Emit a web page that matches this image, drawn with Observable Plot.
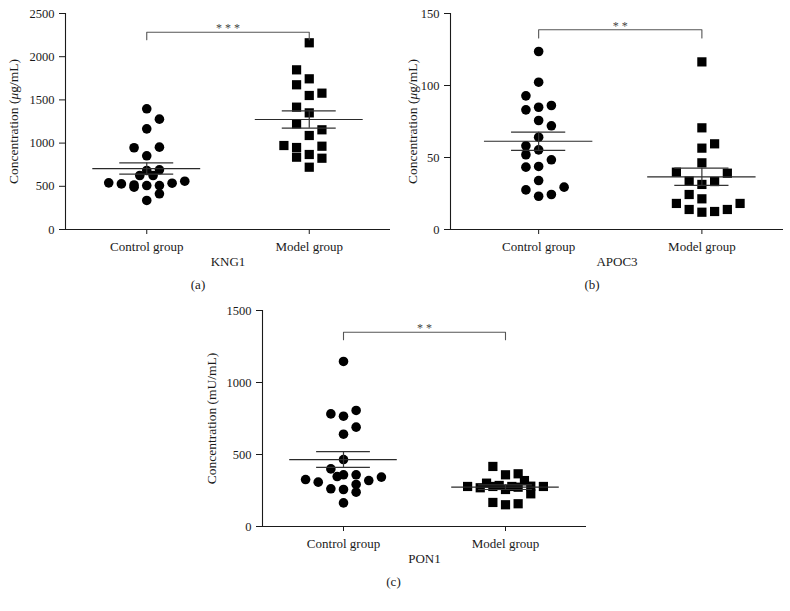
<!DOCTYPE html>
<html>
<head>
<meta charset="utf-8">
<script src="https://cdn.jsdelivr.net/npm/d3@7"></script>
<script src="https://cdn.jsdelivr.net/npm/@observablehq/plot@0.6"></script>
<style>
  html, body { margin: 0; padding: 0; background: #fff; }
  #wrap { position: relative; width: 790px; height: 611px; overflow: hidden; background: #fff; }
  .panel { position: absolute; }
</style>
</head>
<body>
<div id="wrap"></div>
<script>
// ---------- data ----------
const groups = ["Control group", "Model group"];

// (a) KNG1 (µg/mL)
const kngControl    = [1397, 1277, 1165, 946, 953, 853, 691, 683, 625, 625, 540, 528, 490, 515, 509, 509, 536, 559, 413, 336];
const kngControlCol = [0, 1, 0, -1, 1, 0, 1, 0, -0.55, 0.5, -3, -2, -1, -1, 0, 1, 2, 3, 1, 0];
const kngModel      = [2161, 1848, 1744, 1675, 1578, 1551, 1416, 1350, 1223, 1154, 1088, 972, 949, 964, 837, 868, 825, 721];
const kngModelCol   = [0, -1, 0, -1, 1, 0, -1, 0, -1, 1, 0, -2, -1, 1, -1, 0, 1, 0];
const kngMean = [705, 1273];
const kngSem  = [65, 100];

// (b) APOC3 (µg/mL)
const apoControl    = [123.6, 102.3, 92.8, 83.1, 84.9, 86.1, 75.7, 72, 64.1, 58.1, 51.9, 55.3, 48.4, 43.3, 43.8, 34, 27.5, 29.4, 23.1, 24.3];
const apoControlCol = [0, 0, -1, -1, 0, 1, 0, 1, 0, -1, -1, 0, 1, -1, 0, 0, -1, 2, 0, 1];
const apoModel      = [116.4, 70.6, 56.5, 59.5, 46.3, 39.8, 39.1, 33.6, 31.3, 33.3, 24.3, 21.3, 18.1, 18.1, 13.9, 12, 12.5, 13.9];
const apoModelCol   = [0, 0, 0, 1, 0, -2, 2, -1, 0, 1, -1, 0, -2, 3, -1, 0, 1, 2];
const apoMean = [61.3, 36.6];
const apoSem  = [6.3, 6.0];

// (c) PON1 (mU/mL)
const ponControl    = [1146, 782, 766, 806, 690, 641, 465, 400, 347, 359, 359, 326, 308, 319, 343, 262, 257, 292, 238, 164];
const ponControlCol = [0, -1, 0, 1, 1, 0, 0, -1, -0.5, 0, 1, -3, -2, 2, 3, -1, 0, 1, 1, 0];
const ponModel      = [417, 359, 366, 319, 301, 278, 269, 278, 285, 257, 278, 273, 280, 227, 278, 167, 151, 158];
const ponModelCol   = [-1, 0, 1, 1.5, -1.5, -3, -2, -1, -0.5, 0, 0.5, 1, 2, 2, 3, -1, 0, 1];
const ponMean = [465, 273];
const ponSem  = [55, 16];

// significance brackets [bottom, top] and labels
const kngBracket = [2196, 2283];
const apoBracket = [133, 138.7];
const ponBracket = [1297, 1349];
const kngStars = "* * *";
const apoStars = "* *";
const ponStars = "* *";

const kngTicks = [0, 500, 1000, 1500, 2000, 2500];
const apoTicks = [0, 50, 100, 150];
const ponTicks = [0, 500, 1000, 1500];

// ---------- drawing ----------
const SLOT = 0.078;      // horizontal spacing of a dot column, in group units
const MEAN_HW = 0.332;   // half width of the mean line
const SEM_HW = 0.166;    // half width of the SEM lines
const INK = "#1a1a1a";

function panel(o) {
  const pts = [];
  o.control.forEach((v, k) => pts.push({g: 0, x: 0 + o.controlCol[k] * SLOT, y: v}));
  o.model.forEach((v, k) => pts.push({g: 1, x: 1 + o.modelCol[k] * SLOT, y: v}));
  const summ = o.mean.map((m, i) => ({i, mean: m, sem: o.sem[i]}));
  const br = [
    {x: 0, y: o.bracket[0]}, {x: 0, y: o.bracket[1]},
    {x: 1, y: o.bracket[1]}, {x: 1, y: o.bracket[0]}
  ];
  const svg = Plot.plot({
    width: o.width, height: o.height,
    marginLeft: o.ml, marginRight: o.mr, marginTop: o.mt, marginBottom: o.mb,
    style: {fontFamily: "'Liberation Serif', 'Times New Roman', serif", fontSize: "12px", color: INK, background: "#fff", overflow: "visible"},
    x: {type: "linear", domain: o.xDomain},
    y: {domain: [0, o.ticks[o.ticks.length - 1]]},
    marks: [
      Plot.ruleY([0], {stroke: INK, strokeWidth: 1.1}),
      Plot.ruleX([o.xDomain[0]], {stroke: INK, strokeWidth: 1.1}),
      Plot.axisY({ticks: o.ticks, tickFormat: d => String(d), tickSize: 6, tickPadding: 5, fontSize: 12.5, label: null, stroke: INK}),
      Plot.axisX({ticks: [0, 1], tickFormat: i => groups[i], tickSize: 5, tickPadding: 7, fontSize: 13, label: null, stroke: INK}),
      Plot.dot(pts.filter(d => d.g === 0), {x: "x", y: "y", r: 4.8, symbol: "circle", fill: "#000", stroke: null}),
      Plot.dot(pts.filter(d => d.g === 1), {x: "x", y: "y", r: 5.2, symbol: "square", fill: "#000", stroke: null}),
      Plot.ruleY(summ, {y: "mean", x1: d => d.i - MEAN_HW, x2: d => d.i + MEAN_HW, stroke: "#2a2a2a", strokeWidth: 1.2}),
      Plot.ruleY(summ, {y: d => d.mean + d.sem, x1: d => d.i - SEM_HW, x2: d => d.i + SEM_HW, stroke: "#333", strokeWidth: 1.2}),
      Plot.ruleY(summ, {y: d => d.mean - d.sem, x1: d => d.i - SEM_HW, x2: d => d.i + SEM_HW, stroke: "#333", strokeWidth: 1.2}),
      Plot.ruleX(summ, {x: "i", y1: d => d.mean - d.sem, y2: d => d.mean + d.sem, stroke: "#333", strokeWidth: 1.2}),
      Plot.line(br, {x: "x", y: "y", stroke: "#555", strokeWidth: 1.1}),
      Plot.text([o.stars], {x: () => 0.5, y: () => o.bracket[1], dy: -4, fontSize: 12, fill: "#444"}),
      Plot.text([o.yLabel], {frameAnchor: "left", textAnchor: "middle", dx: o.yLabelDx, rotate: -90, fontSize: 13.5, fill: INK}),
      Plot.text([o.name], {frameAnchor: "bottom", dy: 36, fontSize: 13, fill: INK}),
      Plot.text([o.tag], {frameAnchor: "bottom", dx: o.tagDx, dy: 59, fontSize: 13, fill: INK})
    ]
  });
  // italic mu in the unit
  svg.querySelectorAll("text").forEach(t => {
    if (t.textContent.includes("μ") && t.children.length === 0) {
      const parts = t.textContent.split("μ");
      t.textContent = "";
      const ns = "http://www.w3.org/2000/svg";
      const a = document.createElementNS(ns, "tspan"); a.textContent = parts[0];
      const m = document.createElementNS(ns, "tspan"); m.textContent = "μ"; m.setAttribute("font-style", "italic");
      const b = document.createElementNS(ns, "tspan"); b.textContent = parts[1];
      t.append(a, m, b);
    }
  });
  const div = document.createElement("div");
  div.className = "panel";
  div.style.left = o.left + "px";
  div.style.top = o.top + "px";
  div.appendChild(svg);
  document.getElementById("wrap").appendChild(div);
}

panel({
  left: 0, top: 0, width: 395, height: 300, ml: 65, mr: 5, mt: 13, mb: 71,
  xDomain: [-0.5, 1.5], ticks: kngTicks,
  control: kngControl, controlCol: kngControlCol, model: kngModel, modelCol: kngModelCol,
  mean: kngMean, sem: kngSem, bracket: kngBracket, stars: kngStars,
  yLabel: "Concentration (μg/mL)", yLabelDx: -52, name: "KNG1", tag: "(a)", tagDx: -30
});
panel({
  left: 395, top: 0, width: 395, height: 300, ml: 55, mr: 7, mt: 13, mb: 71,
  xDomain: [-0.54, 1.5], ticks: apoTicks,
  control: apoControl, controlCol: apoControlCol, model: apoModel, modelCol: apoModelCol,
  mean: apoMean, sem: apoSem, bracket: apoBracket, stars: apoStars,
  yLabel: "Concentration (μg/mL)", yLabelDx: -38, name: "APOC3", tag: "(b)", tagDx: -25
});
panel({
  left: 197, top: 297, width: 395, height: 311, ml: 65, mr: 6, mt: 13, mb: 82,
  xDomain: [-0.5, 1.5], ticks: ponTicks,
  control: ponControl, controlCol: ponControlCol, model: ponModel, modelCol: ponModelCol,
  mean: ponMean, sem: ponSem, bracket: ponBracket, stars: ponStars,
  yLabel: "Concentration (mU/mL)", yLabelDx: -51, name: "PON1", tag: "(c)", tagDx: -31
});
</script>
</body>
</html>
